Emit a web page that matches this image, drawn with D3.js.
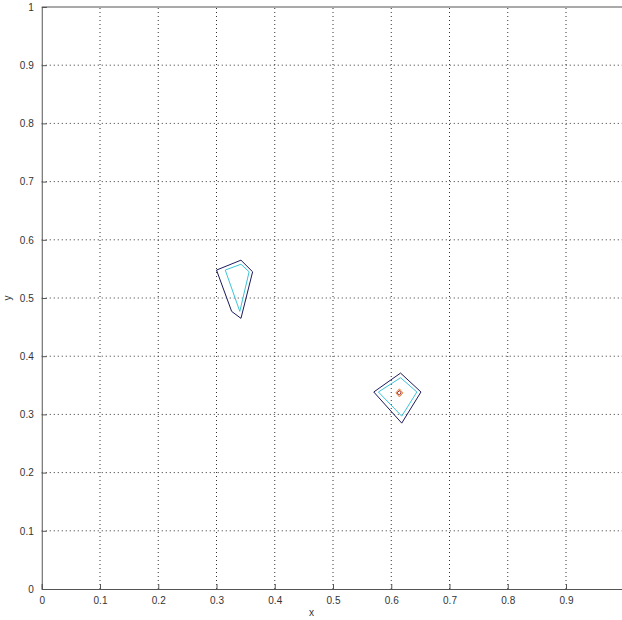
<!DOCTYPE html>
<html><head><meta charset="utf-8">
<script src="https://cdn.jsdelivr.net/npm/d3@7"></script>
<style>body{margin:0;background:#fff;} text{font-family:Arial,"Liberation Sans",sans-serif;}</style>
</head><body><svg id="c" width="622" height="620"></svg>
<script>
const xTicks = [0,0.1,0.2,0.3,0.4,0.5,0.6,0.7,0.8,0.9];
const yTicks = [0,0.1,0.2,0.3,0.4,0.5,0.6,0.7,0.8,0.9,1];
// contour polygons [x,y]
const blobA_outer = [[0.300,0.548],[0.342,0.565],[0.362,0.545],[0.342,0.465],[0.326,0.477],[0.300,0.548]];
const blobA_inner = [[0.315,0.548],[0.342,0.558],[0.356,0.545],[0.340,0.477],[0.315,0.548]];
const blobB_outer = [[0.570,0.3385],[0.616,0.371],[0.651,0.3385],[0.618,0.285],[0.570,0.3385]];
const blobB_mid = [[0.578,0.3385],[0.616,0.363],[0.644,0.3385],[0.618,0.297],[0.578,0.3385]];
const blobB_orange = [[0.608,0.337],[0.614,0.344],[0.620,0.337],[0.614,0.330],[0.608,0.337]];
const blobB_red = [[0.610,0.337],[0.614,0.341],[0.617,0.337],[0.614,0.333],[0.610,0.337]];
const contours = [
  {pts: blobA_outer, color:"#1a1a5e"},
  {pts: blobA_inner, color:"#3cc4d8"},
  {pts: blobB_outer, color:"#1a1a5e"},
  {pts: blobB_mid, color:"#3cc4d8"},
  {pts: blobB_orange, color:"#e08a40"},
  {pts: blobB_red, color:"#a02020"}
];

const svg = d3.select("#c");
const x = d3.scaleLinear().domain([0,1]).range([41.75,624.25]);
const y = d3.scaleLinear().domain([0,1]).range([589,7]);

// grid
const g = svg.append("g");
g.selectAll("line.gx").data(xTicks.filter(d=>d>0)).join("line")
  .attr("x1",d=>x(d)).attr("x2",d=>x(d)).attr("y1",y(0)).attr("y2",y(1))
  .attr("stroke","#333").attr("stroke-width",1).attr("stroke-dasharray","1,3");
g.selectAll("line.gy").data(yTicks.filter(d=>d>0&&d<1)).join("line")
  .attr("y1",d=>y(d)).attr("y2",d=>y(d)).attr("x1",x(0)).attr("x2",622)
  .attr("stroke","#333").attr("stroke-width",1).attr("stroke-dasharray","1,3");

// contours
const line = d3.line().x(d=>x(d[0])).y(d=>y(d[1]));
svg.selectAll("path.ct").data(contours).join("path")
  .attr("d",d=>line(d.pts)).attr("fill","none").attr("stroke",d=>d.color).attr("stroke-width",1);

// axes
const xAxis = d3.axisBottom(x).tickValues(xTicks).tickSize(-5).tickPadding(8).tickFormat(d=>d===0?"0":d3.format(".1f")(d));
const gx = svg.append("g").attr("transform",`translate(0,${y(0)})`).call(xAxis);
const yAxis = d3.axisLeft(y).tickValues(yTicks).tickSize(-5).tickPadding(8).tickFormat(d=>(d===0||d===1)?String(d):d3.format(".1f")(d));
const gy = svg.append("g").attr("transform",`translate(${x(0)},0)`).call(yAxis);
[gx,gy].forEach(a=>{
  a.select(".domain").attr("stroke","#555");
  a.selectAll(".tick line").attr("stroke","#555");
  a.selectAll(".tick text").attr("fill","#333").style("font-size","10px").style("font-family","Arial,'Liberation Sans',sans-serif");
});
// top border
svg.append("line").attr("x1",x(0)).attr("x2",622).attr("y1",y(1)).attr("y2",y(1)).attr("stroke","#555");

svg.append("text").attr("x",x(0.463)).attr("y",616).attr("text-anchor","middle").attr("fill","#333").style("font-size","10px").text("x");
svg.append("text").attr("transform",`translate(11,${y(0.5)}) rotate(-90)`).attr("text-anchor","middle").attr("fill","#333").style("font-size","10px").text("y");
</script></body></html>
